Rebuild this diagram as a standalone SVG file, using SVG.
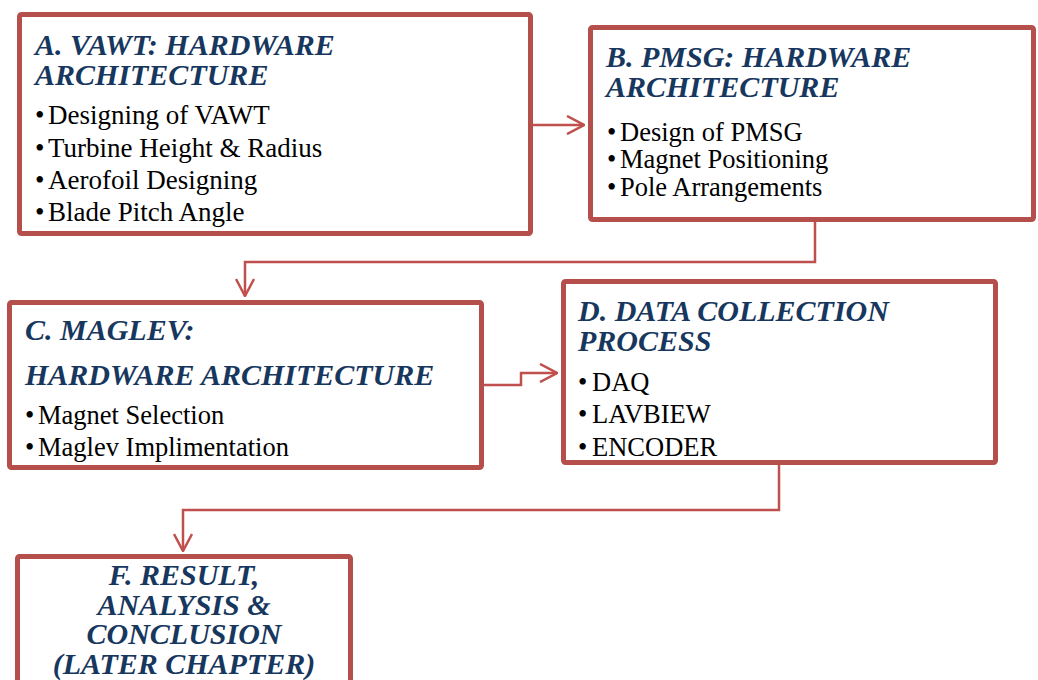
<svg xmlns="http://www.w3.org/2000/svg" width="1038" height="680" viewBox="0 0 1038 680">
<style>
.box{fill:#fff;stroke:#B54F4B;stroke-width:5;}
.title{font-family:"Liberation Serif",serif;font-weight:bold;font-style:italic;font-size:30px;fill:#17375E;}
.body{font-family:"Liberation Serif",serif;font-size:26.5px;fill:#000;}
.bodyA{font-size:27px;}
.conn{fill:none;stroke:#C0504D;stroke-width:2.5;}
</style>
<defs>
<marker id="arr" viewBox="0 0 20 20" refX="19" refY="10" markerWidth="20" markerHeight="20" markerUnits="userSpaceOnUse" orient="auto">
<path d="M2,1 L19,10 L2,19" fill="none" stroke="#C0504D" stroke-width="2.5"/>
</marker>
</defs>
<g id="connectors">
<path class="conn" d="M533,125 L584,125" marker-end="url(#arr)"/>
<path class="conn" d="M815,222 L815,262 L245,262 L245,296" marker-end="url(#arr)"/>
<path class="conn" d="M484,385 L521,385 L521,373 L557,373" marker-end="url(#arr)"/>
<path class="conn" d="M779,465 L779,510 L183,510 L183,551" marker-end="url(#arr)"/>
</g>
<g id="nodeA">
<rect class="box" x="19.5" y="14.5" width="511" height="219" rx="2"/>
<text class="title" x="35" y="55">A. VAWT: HARDWARE</text>
<text class="title" x="35" y="85">ARCHITECTURE</text>
<text class="body bodyA" y="124"><tspan x="35">•</tspan><tspan x="48">Designing of VAWT</tspan></text>
<text class="body bodyA" y="157"><tspan x="35">•</tspan><tspan x="48">Turbine Height &amp; Radius</tspan></text>
<text class="body bodyA" y="189"><tspan x="35">•</tspan><tspan x="48">Aerofoil Designing</tspan></text>
<text class="body bodyA" y="221"><tspan x="35">•</tspan><tspan x="48">Blade Pitch Angle</tspan></text>
</g>
<g id="nodeB">
<rect class="box" x="590.5" y="27.5" width="443" height="192" rx="2"/>
<text class="title" x="606" y="67">B. PMSG: HARDWARE</text>
<text class="title" x="606" y="97">ARCHITECTURE</text>
<text class="body" y="141"><tspan x="607">•</tspan><tspan x="620">Design of PMSG</tspan></text>
<text class="body" y="168"><tspan x="607">•</tspan><tspan x="620">Magnet Positioning</tspan></text>
<text class="body" y="196"><tspan x="607">•</tspan><tspan x="620">Pole Arrangements</tspan></text>
</g>
<g id="nodeC">
<rect class="box" x="9.5" y="302.5" width="472" height="165" rx="2"/>
<text class="title" x="25" y="340">C. MAGLEV:</text>
<text class="title" x="25" y="385">HARDWARE ARCHITECTURE</text>
<text class="body" y="424"><tspan x="25">•</tspan><tspan x="38">Magnet Selection</tspan></text>
<text class="body" y="456"><tspan x="25">•</tspan><tspan x="38">Maglev Implimentation</tspan></text>
</g>
<g id="nodeD">
<rect class="box" x="563.5" y="281.5" width="432" height="181" rx="2"/>
<text class="title" x="578" y="321">D. DATA COLLECTION</text>
<text class="title" x="578" y="351">PROCESS</text>
<text class="body" y="391"><tspan x="578">•</tspan><tspan x="592">DAQ</tspan></text>
<text class="body" y="423"><tspan x="578">•</tspan><tspan x="592">LAVBIEW</tspan></text>
<text class="body" y="456"><tspan x="578">•</tspan><tspan x="592">ENCODER</tspan></text>
</g>
<g id="nodeF">
<rect class="box" x="17.5" y="556.5" width="333" height="150" rx="2"/>
<text class="title" x="184" y="585" text-anchor="middle">F. RESULT,</text>
<text class="title" x="184" y="615" text-anchor="middle">ANALYSIS &amp;</text>
<text class="title" x="184" y="644" text-anchor="middle">CONCLUSION</text>
<text class="title" x="184" y="674" text-anchor="middle">(LATER CHAPTER)</text>
</g>
</svg>
